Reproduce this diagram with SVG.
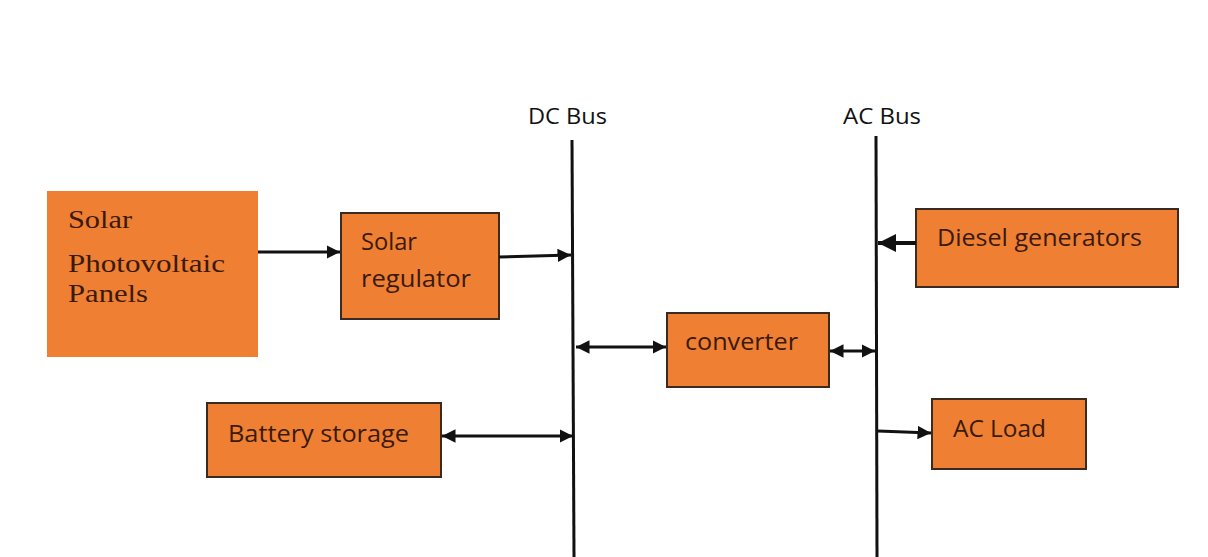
<svg xmlns="http://www.w3.org/2000/svg" width="1208" height="557" viewBox="0 0 1208 557">
<style>
.box{fill:#EE7F33;stroke:#3a2a20;stroke-width:2}
.t{font-family:"Open Sans","Liberation Sans",sans-serif;font-size:23px;fill:#3a1a0a}
.ts{font-family:"Liberation Serif",serif;font-size:26px;fill:#3a1a0a}
.lbl{font-family:"Open Sans","Liberation Sans",sans-serif;font-size:21px;fill:#111}
.bus{stroke:#111;stroke-width:3;fill:none}
.c{stroke:#111;stroke-width:3;fill:none}
</style>
<defs>
<marker id="ah" viewBox="0 0 10 10" refX="10" refY="5" markerWidth="4.5" markerHeight="4.5" orient="auto-start-reverse">
<path d="M0,0 L10,5 L0,10 z" fill="#111"/>
</marker>
</defs>
<rect width="1208" height="557" fill="#fff"/>
<g id="dcbus">
<line class="bus" x1="572" y1="140" x2="574" y2="557"/>
<text class="lbl" x="528" y="124" textLength="79" lengthAdjust="spacingAndGlyphs">DC Bus</text>
</g>
<g id="acbus">
<line class="bus" x1="876" y1="136" x2="877" y2="557"/>
<text class="lbl" x="843" y="124" textLength="78" lengthAdjust="spacingAndGlyphs">AC Bus</text>
</g>
<g id="pv">
<rect x="47" y="191" width="211" height="166" fill="#EE7F33"/>
<text class="ts" x="68" y="228" textLength="64" lengthAdjust="spacingAndGlyphs">Solar</text>
<text class="ts" x="68" y="272" textLength="157" lengthAdjust="spacingAndGlyphs">Photovoltaic</text>
<text class="ts" x="68" y="302" textLength="80" lengthAdjust="spacingAndGlyphs">Panels</text>
</g>
<g id="regulator">
<rect class="box" x="341" y="213" width="158" height="106"/>
<text class="t" x="361" y="250" textLength="56" lengthAdjust="spacingAndGlyphs">Solar</text>
<text class="t" x="361" y="287" textLength="110" lengthAdjust="spacingAndGlyphs">regulator</text>
</g>
<g id="converter">
<rect class="box" x="667" y="313" width="162" height="74"/>
<text class="t" x="685" y="350" textLength="113" lengthAdjust="spacingAndGlyphs">converter</text>
</g>
<g id="diesel">
<rect class="box" x="916" y="209" width="262" height="78"/>
<text class="t" x="937" y="246" textLength="205" lengthAdjust="spacingAndGlyphs">Diesel generators</text>
</g>
<g id="acload">
<rect class="box" x="932" y="399" width="154" height="70"/>
<text class="t" x="953" y="437" textLength="93" lengthAdjust="spacingAndGlyphs">AC Load</text>
</g>
<g id="battery">
<rect class="box" x="207" y="403" width="234" height="74"/>
<text class="t" x="228" y="442" textLength="181" lengthAdjust="spacingAndGlyphs">Battery storage</text>
</g>
<g id="connectors">
<line class="c" x1="258" y1="252" x2="340" y2="252" marker-end="url(#ah)"/>
<line class="c" x1="499" y1="257" x2="571" y2="255" marker-end="url(#ah)"/>
<line class="c" x1="576" y1="347" x2="666" y2="347" marker-start="url(#ah)" marker-end="url(#ah)"/>
<line class="c" x1="830" y1="351" x2="875" y2="351" marker-start="url(#ah)" marker-end="url(#ah)"/>
<line class="c" x1="916" y1="243" x2="878" y2="243" style="stroke-width:4" marker-end="url(#ah)"/>
<line class="c" x1="878" y1="431" x2="931" y2="433" marker-end="url(#ah)"/>
<line class="c" x1="442" y1="436" x2="573" y2="436" marker-start="url(#ah)" marker-end="url(#ah)"/>
</g>
</svg>
